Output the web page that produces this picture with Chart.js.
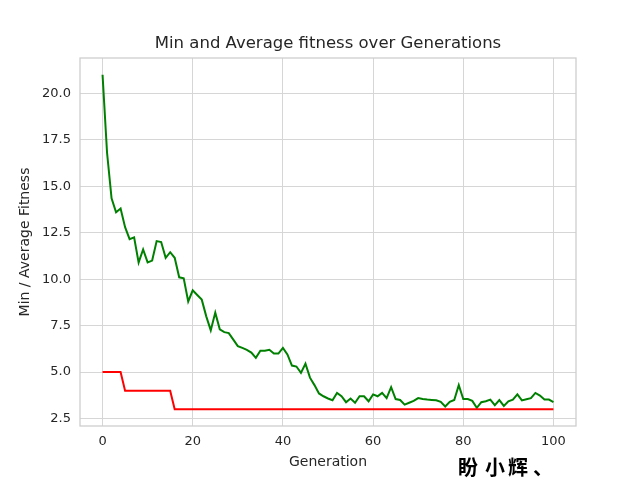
<!DOCTYPE html>
<html>
<head>
<meta charset="utf-8">
<script src="https://cdn.jsdelivr.net/npm/chart.js@4"></script>
<style>
  html, body { margin: 0; padding: 0; background: #fff; }
  #wrap { position: relative; width: 640px; height: 490px; }
</style>
</head>
<body>
<div id="wrap"><canvas id="chart" width="640" height="490"></canvas></div>
<script>
const generations = Array.from({ length: 101 }, (_, i) => i);

const avgFitness = [
  21.0, 16.8, 14.35, 13.6, 13.8, 12.8, 12.15, 12.25, 10.9, 11.6,
  10.9, 11.0, 12.05, 12.0, 11.15, 11.45, 11.15, 10.1, 10.05, 8.8,
  9.4, 9.15, 8.9, 8.0, 7.25, 8.2, 7.3, 7.15, 7.1, 6.75,
  6.4, 6.3, 6.2, 6.05, 5.77, 6.15, 6.15, 6.2, 6.0, 6.0,
  6.3, 5.95, 5.35, 5.3, 4.96, 5.45, 4.7, 4.3, 3.85, 3.7,
  3.58, 3.49, 3.88, 3.7, 3.38, 3.58, 3.35, 3.7, 3.7, 3.43,
  3.8, 3.7, 3.88, 3.6, 4.19, 3.55, 3.5, 3.25, 3.35, 3.45,
  3.6, 3.55, 3.52, 3.5, 3.48, 3.4, 3.15, 3.4, 3.5, 4.3,
  3.55, 3.55, 3.45, 3.08, 3.38, 3.43, 3.52, 3.22, 3.49, 3.18,
  3.43, 3.52, 3.8, 3.48, 3.54, 3.6, 3.88, 3.74, 3.52, 3.52,
  3.39
];

const minFitness = generations.map((g) => (g <= 4 ? 5 : g <= 15 ? 4 : 3));

const xTicks = [0, 20, 40, 60, 80, 100];
const yTicks = [2.5, 5.0, 7.5, 10.0, 12.5, 15.0, 17.5, 20.0];

const chartTitle = 'Min and Average fitness over Generations';
const watermark = ['盼', '小', '辉', '、'];

const textColor = '#262626';
const gridColor = '#d6d6d6';
const fontFamily = '"DejaVu Sans", sans-serif';

const toPoints = (values) => values.map((v, i) => ({ x: generations[i], y: v }));

// frame, title (centred on the plot) and the watermark
const framePlugin = {
  id: 'frame',
  afterDraw(chart) {
    const { ctx, chartArea: a } = chart;
    ctx.save();
    ctx.strokeStyle = '#cccccc';
    ctx.lineWidth = 1.25;
    ctx.strokeRect(a.left, a.top, a.right - a.left, a.bottom - a.top);

    ctx.fillStyle = textColor;
    ctx.font = `16.5px ${fontFamily}`;
    ctx.textAlign = 'center';
    ctx.textBaseline = 'middle';
    ctx.fillText(chartTitle, (a.left + a.right) / 2, 44);

    ctx.fillStyle = '#000';
    ctx.font = 'bold 20px "Noto Sans CJK SC", serif';
    ctx.textAlign = 'left';
    [458, 485, 508, 533].forEach((x, i) => ctx.fillText(watermark[i], x, 467));
    ctx.restore();
  },
};

new Chart(document.getElementById('chart'), {
  type: 'line',
  data: {
    datasets: [
      { label: 'Min Fitness', data: toPoints(minFitness), borderColor: '#ff0000', borderWidth: 2, pointRadius: 0, tension: 0 },
      { label: 'Average Fitness', data: toPoints(avgFitness), borderColor: '#008000', borderWidth: 2, pointRadius: 0, tension: 0 },
    ],
  },
  options: {
    responsive: false,
    animation: false,
    layout: { padding: { left: 0, right: 64, top: 58, bottom: 0 } },
    plugins: {
      legend: { display: false },
      tooltip: { enabled: false },
      title: { display: false },
    },
    scales: {
      x: {
        type: 'linear',
        min: -5,
        max: 105,
        afterFit: (scale) => { scale.height = 64; },
        afterBuildTicks: (scale) => { scale.ticks = xTicks.map((v) => ({ value: v })); },
        grid: { color: gridColor, drawTicks: false },
        border: { display: false },
        ticks: { color: textColor, padding: 8, font: { family: fontFamily, size: 13 }, maxRotation: 0 },
        title: { display: true, text: 'Generation', color: textColor, font: { family: fontFamily, size: 14 }, padding: { top: 0, bottom: 19 } },
      },
      y: {
        min: 2.1,
        max: 21.9,
        afterFit: (scale) => { scale.width = 80; },
        afterBuildTicks: (scale) => { scale.ticks = yTicks.map((v) => ({ value: v })); },
        grid: { color: gridColor, drawTicks: false },
        border: { display: false },
        ticks: { color: textColor, padding: 9, font: { family: fontFamily, size: 13 }, callback: (v) => Number(v).toFixed(1) },
        title: { display: true, text: 'Min / Average Fitness', color: textColor, font: { family: fontFamily, size: 14 }, padding: { top: 17, bottom: 0 } },
      },
    },
  },
  plugins: [framePlugin],
});
</script>
</body>
</html>
